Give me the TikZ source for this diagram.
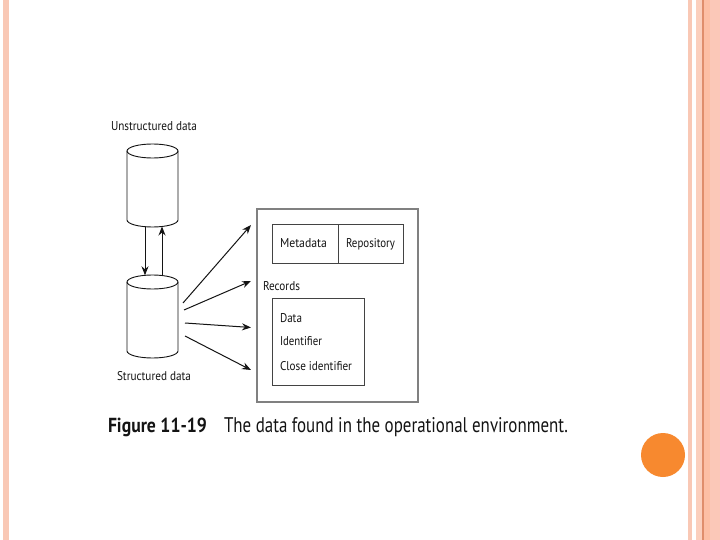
\documentclass[tikz,border=0pt]{standalone}
\usepackage{fontspec}
\setmainfont{PT Sans}
\usepackage{graphicx}
\usetikzlibrary{arrows.meta}
\newcommand{\fitbox}[3]{\resizebox{#1pt}{#2pt}{#3}}
\definecolor{stripeA}{HTML}{F9C8B5}
\definecolor{stripeB}{HTML}{FBCFBD}
\definecolor{stripeLine}{HTML}{E08E6C}
\definecolor{stripeC}{HTML}{FDBFA5}
\definecolor{stripeD}{HTML}{FBC8B8}
\definecolor{dotorange}{HTML}{F7892F}
\definecolor{ink}{HTML}{141414}
\tikzset{
  txt/.style={inner sep=0pt, outer sep=0pt, text=ink, anchor=base west},
  cylline/.style={draw=ink, line width=0.9pt},
  boxline/.style={draw=ink!80, line width=0.9pt, inner sep=0pt, outer sep=0pt},
  envbox/.style={draw=black!50, line width=1.4pt, inner sep=0pt, outer sep=0pt},
  arr/.style={draw=ink, line width=1pt, -{Stealth[length=9pt,width=7pt]}},
  holder/.style={inner sep=0pt, outer sep=0pt}
}
\begin{document}
\begin{tikzpicture}[x=1pt,y=-1pt]
\useasboundingbox (0,0) rectangle (720,540);
\fill[white] (0,0) rectangle (720,540);
% slide decoration
\fill[stripeA] (3,0) rectangle (9,540);
\fill[stripeA] (688,0) rectangle (692,540);
\fill[stripeB] (696,0) rectangle (702,540);
\fill[stripeLine] (702,0) rectangle (703.5,540);
\fill[stripeC] (703.5,0) rectangle (710,540);
\fill[stripeD] (710,0) rectangle (720,540);
\node[circle, fill=dotorange, minimum size=44pt, inner sep=0pt] (dot) at (663,455) {};
% cylinders (holders)
\node[holder, minimum width=51pt, minimum height=83pt] (unst) at (152.5,185.5) {};
\node[holder, minimum width=51pt, minimum height=83pt] (strc) at (152.5,316.5) {};
% top cylinder
\draw[cylline] (127,151) -- (127,220) arc[start angle=180, end angle=0, x radius=25.5, y radius=7] -- (178,151);
\draw[cylline] (152.5,151) ellipse [x radius=25.5, y radius=7];
% bottom cylinder
\draw[cylline] (127,282) -- (127,351) arc[start angle=180, end angle=0, x radius=25.5, y radius=7] -- (178,282);
\draw[cylline] (152.5,282) ellipse [x radius=25.5, y radius=7];
% labels
\node[txt] (lu) at (111,131) {\fitbox{86}{9}{Unstructured data}};
\node[txt] (ls) at (117,380) {\fitbox{74}{9}{Structured data}};
% arrows between cylinders
\coordinate (d1) at (145,227);
\coordinate (d2) at (145,275.3);
\coordinate (u1) at (162,275.5);
\coordinate (u2) at (162,226.5);
\draw[arr] (d1) -- (d2);
\draw[arr] (u1) -- (u2);
% environment box
\node[envbox, minimum width=161pt, minimum height=193pt] (env) at (337.5,305.5) {};
\node[boxline, minimum width=66pt, minimum height=39pt] (meta) at (305,243.5) {};
\node[boxline, minimum width=65pt, minimum height=39pt] (repo) at (370.5,243.5) {};
\node[txt] (lmeta) at (280,247.5) {\fitbox{47}{9}{Metadata}};
\node[txt] (lrepo) at (346,247.5) {\fitbox{49}{9}{Repository}};
\node[txt] (lrec) at (263,290.5) {\fitbox{37}{9}{Records}};
\node[boxline, minimum width=92pt, minimum height=87pt] (rec) at (318,341.5) {};
\node[txt] (ldata) at (280,322) {\fitbox{22}{9}{Data}};
\node[txt] (lid) at (280,345.5) {\fitbox{42}{9}{Identifier}};
\node[txt] (lcid) at (280,370.5) {\fitbox{72}{9}{Close identifier}};
% arrows to environment
\coordinate (s1) at (183,303);
\coordinate (t1) at (251,225);
\coordinate (s2) at (184,310);
\coordinate (t2) at (251,281);
\coordinate (s3) at (185,323);
\coordinate (t3) at (251,327.5);
\coordinate (s4) at (185,336);
\coordinate (t4) at (251,370);
\draw[arr] (s1) -- (t1);
\draw[arr] (s2) -- (t2);
\draw[arr] (s3) -- (t3);
\draw[arr] (s4) -- (t4);
% caption
\node[txt] (capa) at (108,432.3) {\fitbox{99}{14.5}{\bfseries Figure 11-19}};
\node[txt] (capb) at (224,432.3) {\fitbox{344}{15}{The data found in the operational environment.}};
\end{tikzpicture}
\end{document}
